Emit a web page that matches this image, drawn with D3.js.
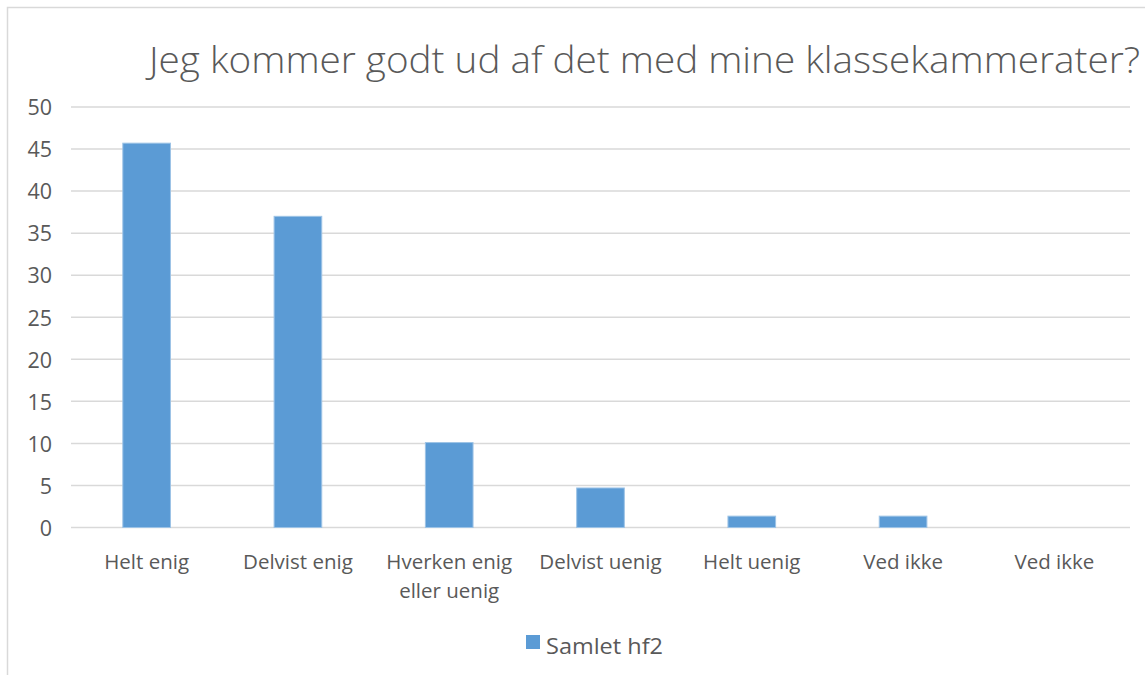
<!DOCTYPE html>
<html><head><meta charset="utf-8">
<script src="https://cdn.jsdelivr.net/npm/d3@7"></script>
<style>
html,body{margin:0;padding:0;background:#fff;}
text{font-family:"Open Sans",Lato,sans-serif;fill:#595959;}
</style></head>
<body><svg id="c" width="1145" height="675"></svg>
<script>
const title = "Jeg kommer godt ud af det med mine klassekammerater?";
const categories = ["Helt enig","Delvist enig","Hverken enig|eller uenig","Delvist uenig","Helt uenig","Ved ikke","Ved ikke "];
const values = [45.7, 37.0, 10.1, 4.7, 1.35, 1.35, 0];
const yTicks = [0,5,10,15,20,25,30,35,40,45,50];
const seriesName = "Samlet hf2";

const svg = d3.select("#c");
svg.append("rect").attr("x",7.5).attr("y",7.5).attr("width",1200).attr("height",700)
  .attr("fill","#fff").attr("stroke","#D9D9D9").attr("stroke-width",1.5);

const pLeft = 71, pRight = 1130, pTop = 107, pBottom = 527.5;
const x = d3.scaleBand().domain(categories).range([pLeft,pRight]).padding(0);
const y = d3.scaleLinear().domain([0,50]).range([pBottom,pTop]);

// gridlines
svg.append("g").selectAll("line").data(yTicks).join("line")
  .attr("x1",pLeft).attr("x2",pRight)
  .attr("y1",d=>y(d)).attr("y2",d=>y(d))
  .attr("stroke","#D9D9D9").attr("stroke-width",1.5);

// y axis labels
const ya = svg.append("g").attr("transform",`translate(${pLeft},0)`)
  .call(d3.axisLeft(y).tickValues(yTicks).tickSize(0).tickPadding(19));
ya.select(".domain").remove();
ya.selectAll("text").attr("font-size",21.5).attr("font-family","'Open Sans',Lato,sans-serif").attr("fill","#595959").attr("dy","0.36em");

// bars
const bw = x.bandwidth()*0.315;
svg.append("g").selectAll("rect").data(values).join("rect")
  .attr("x",(d,i)=>x(categories[i])+x.bandwidth()/2-bw/2)
  .attr("width",bw)
  .attr("y",d=>y(d))
  .attr("height",d=>y(0)-y(d))
  .attr("fill","#5B9BD5").attr("stroke", d=> d>0 ? "#9DC3E6" : "none").attr("stroke-width",1);

// x labels
const xl = svg.append("g");
categories.forEach(c=>{
  const lines = c.trim().split("|");
  const t = xl.append("text").attr("text-anchor","middle").attr("font-size",20.5)
    .attr("x", x(c)+x.bandwidth()/2).attr("y",569);
  lines.forEach((l,j)=>t.append("tspan").attr("x",x(c)+x.bandwidth()/2).attr("dy", j===0?0:29).text(l));
});

// title
svg.append("text").attr("x",149).attr("y",73).attr("font-size",37).attr("font-weight",300)
  .attr("textLength",991).attr("lengthAdjust","spacingAndGlyphs").text(title);

// legend
svg.append("rect").attr("x",526).attr("y",635).attr("width",14).attr("height",14).attr("fill","#5B9BD5");
svg.append("text").attr("x",546).attr("y",654).attr("font-size",21)
  .attr("textLength",117).attr("lengthAdjust","spacingAndGlyphs").text(seriesName);
</script></body></html>
